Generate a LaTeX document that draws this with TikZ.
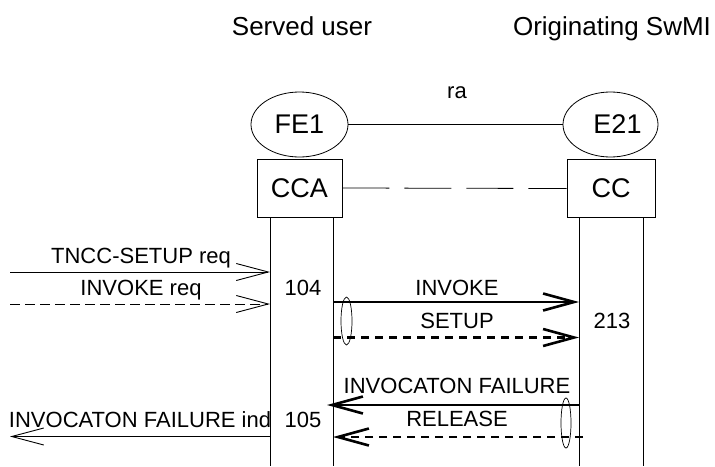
\documentclass[tikz,border=0pt]{standalone}
\usepackage{fontspec}
\setmainfont{Liberation Sans}
\usetikzlibrary{arrows.meta,shapes.geometric}
\begin{document}
\begin{tikzpicture}[x=1pt,y=-1pt,
  hdr/.style={font=\fontsize{26}{30}\selectfont, inner sep=0pt, anchor=base},
  big/.style={font=\fontsize{27}{30}\selectfont},
  lbl/.style={font=\fontsize{22}{24}\selectfont, inner sep=0pt, anchor=base},
  ent/.style={draw, ellipse, line width=0.8pt, minimum width=97pt, minimum height=65pt, big, inner sep=0pt},
  fbox/.style={draw, line width=0.8pt, minimum width=85pt, minimum height=58pt, big, inner sep=0pt},
  life/.style={line width=0.8pt},
  thinmsg/.style={line width=0.9pt, -{Straight Barb[length=32pt,width=17pt]}},
  thickmsg/.style={line width=2.6pt, -{Straight Barb[length=31pt,width=17pt]}},
  thindash/.style={dash pattern=on 10pt off 5pt},
  thickdash/.style={dash pattern=on 8pt off 6pt},
  grp/.style={draw, ellipse, line width=0.7pt, minimum width=11pt, minimum height=48pt, inner sep=0pt},
]
\useasboundingbox (0,0) rectangle (715,466);

% headers
\node[hdr] (hsu) at (302,35) {Served user};
\node[hdr] (hos) at (612,35) {Originating SwMI};

% functional entities
\node[ent] (fe1) at (299.5,124.5) {FE1};
\node[ent, minimum width=95pt] (e21) at (610.5,124.5) {\hspace*{14pt}E21};
\draw[line width=0.8pt] (fe1.east) -- (e21.west);
\node[lbl] (ra) at (457,98) {ra};

\node[fbox] (cca) at (299.5,188) {CCA};
\node[fbox, minimum width=88pt] (cc) at (611,188.5) {CC};
\draw[line width=0.8pt, dash pattern=on 47pt off 15pt] (cca.east) -- (cc.west);

% lifelines
\coordinate (l1t) at (270,217);  \coordinate (l1b) at (270,466);
\coordinate (l2t) at (333,217);  \coordinate (l2b) at (333,466);
\coordinate (l3t) at (579,218);  \coordinate (l3b) at (579,466);
\coordinate (l4t) at (643,218);  \coordinate (l4b) at (643,466);
\draw[life] (l1t) -- (l1b);
\draw[life] (l2t) -- (l2b);
\draw[life] (l3t) -- (l3b);
\draw[life] (l4t) -- (l4b);

% message end points
\coordinate (a1) at (10,272);  \coordinate (b1) at (270,272);
\coordinate (a2) at (10,304);  \coordinate (b2) at (270,304);
\coordinate (a3) at (333,302); \coordinate (b3) at (579,302);
\coordinate (a4) at (333,337.5); \coordinate (b4) at (579,337.5);
\coordinate (a5) at (579,405); \coordinate (b5) at (327,405);
\coordinate (a6) at (583,437); \coordinate (b6) at (333,437);
\coordinate (a7) at (270,436.5); \coordinate (b7) at (10,436.5);

\draw[thinmsg] (a1) -- (b1);
\draw[thinmsg, thindash] (a2) -- (b2);
\draw[thickmsg] (a3) -- (b3);
\draw[thickmsg, thickdash] (a4) -- (b4);
\draw[thickmsg] (a5) -- (b5);
\draw[thickmsg, thickdash] (a6) -- (b6);
\draw[thinmsg] (a7) -- (b7);

% grouping ellipses
\node[grp] (g1) at (346.5,321) {};
\node[grp, minimum width=10pt, minimum height=50pt] (g2) at (566,423) {};

% labels
\node[lbl] (t1) at (141,263) {TNCC-SETUP req};
\node[lbl] (t2) at (141,295.5) {INVOKE req};
\node[lbl] (n104) at (303,295.5) {104};
\node[lbl] (t3) at (457,295) {INVOKE};
\node[lbl] (t4) at (457,328.3) {SETUP};
\node[lbl] (n213) at (612,328.3) {213};
\node[lbl] (t5) at (457,393.3) {INVOCATON FAILURE};
\node[lbl] (t6) at (457,426.7) {RELEASE};
\node[lbl] (t7) at (140,427.3) {INVOCATON FAILURE ind};
\node[lbl] (n105) at (303,427.3) {105};
\end{tikzpicture}
\end{document}
